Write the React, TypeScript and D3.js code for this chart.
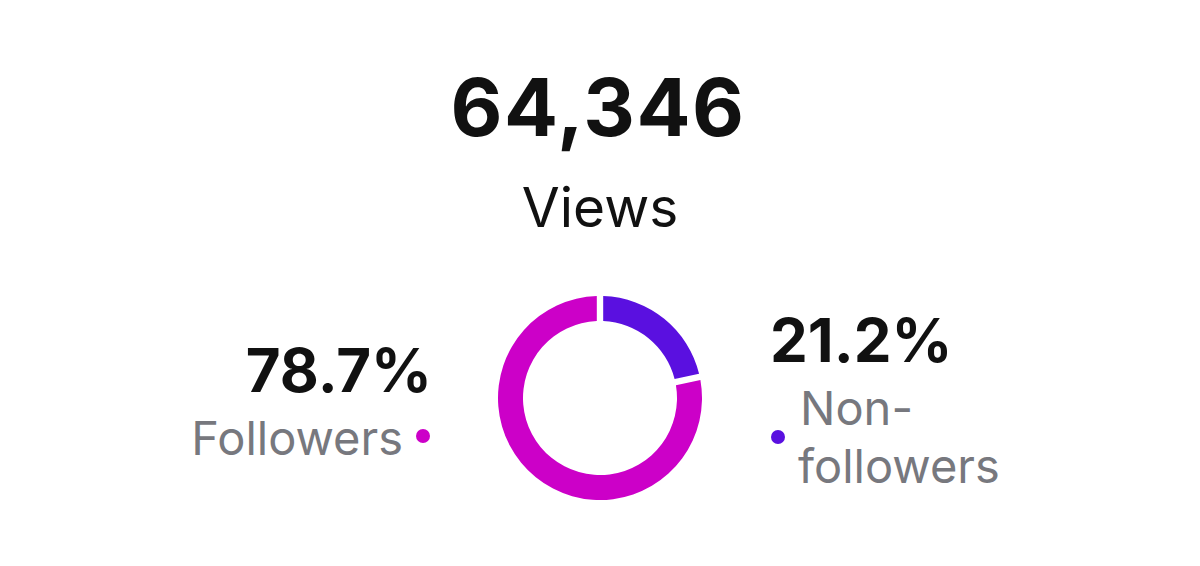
import React from "react";
import * as d3 from "d3";

const totalViews = 64346;
const totalLabel = "Views";
const segments = ["Non-followers", "Followers"];
const shares = [21.2, 78.7];
const palette = ["#5A10E0", "#CC00C8"];

const W = 1200;
const H = 566;

export default function App() {
  const cx = 600;
  const cy = 398;
  const outer = 102;
  const inner = 77;
  const pie = d3.pie<number>().sort(null).value((d) => d).padAngle(0.05);
  const arcs = pie(shares);
  const arcGen = d3.arc<d3.PieArcDatum<number>>().innerRadius(inner).outerRadius(outer);
  const fmt = d3.format(",");
  const font = "Inter, 'Noto Sans', sans-serif";
  const gray = "#77787e";
  return (
    <div style={{ position: "absolute", left: 0, top: 0 }}>
      <svg width={W} height={H} style={{ display: "block", background: "#fff" }}>
        <text x={598} y={136} textAnchor="middle" fontFamily={font} fontWeight={700} fontSize={80} fill="#111" letterSpacing={1.5}>
          {fmt(totalViews)}
        </text>
        <text x={600} y={227} textAnchor="middle" fontFamily={font} fontWeight={400} fontSize={55} fill="#111">
          {totalLabel}
        </text>
        <g transform={`translate(${cx},${cy})`}>
          {arcs.map((a, i) => (
            <path key={i} d={arcGen(a) || ""} fill={palette[i]} />
          ))}
        </g>
        {/* Followers (left) */}
        <text x={432} y={392} textAnchor="end" fontFamily={font} fontWeight={700} fontSize={60} fill="#111">
          {shares[1]}%
        </text>
        <text x={403} y={455} textAnchor="end" fontFamily={font} fontWeight={400} fontSize={47} fill={gray}>
          {segments[1]}
        </text>
        <circle cx={423} cy={436} r={7} fill={palette[1]} />
        {/* Non-followers (right) */}
        <text x={770} y={362} textAnchor="start" fontFamily={font} fontWeight={700} fontSize={60} fill="#111">
          {shares[0]}%
        </text>
        <circle cx={778} cy={437} r={7} fill={palette[0]} />
        <text x={800} y={425} textAnchor="start" fontFamily={font} fontWeight={400} fontSize={47} fill={gray}>
          {segments[0].split("-")[0]}-
        </text>
        <text x={798} y={483} textAnchor="start" fontFamily={font} fontWeight={400} fontSize={47} fill={gray}>
          {segments[0].split("-")[1]}
        </text>
      </svg>
    </div>
  );
}
